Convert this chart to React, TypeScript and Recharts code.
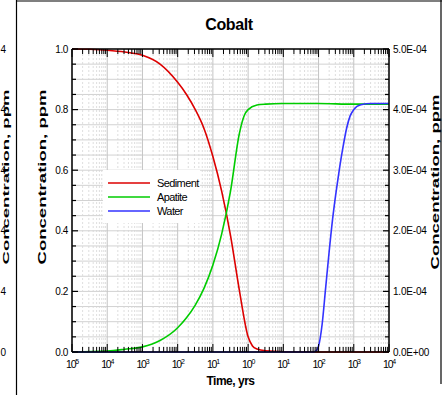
import React from 'react';
import { LineChart, Line, XAxis, YAxis, ReferenceLine, Legend } from 'recharts';

// ---------- data ----------
const sedimentTime = [1e-5, 3.16e-5, 1e-4, 3.16e-4, 1e-3, 3.16e-3, 0.01, 0.0178, 0.0316, 0.0562, 0.1, 0.178, 0.316, 0.562, 1, 1.33, 1.78, 3.16, 10, 100, 1e4];
const sedimentConc = [1.0, 0.999, 0.996, 0.99, 0.979, 0.95, 0.89, 0.85, 0.8, 0.737, 0.645, 0.53, 0.385, 0.205, 0.05, 0.02, 0.01, 0.004, 0.001, 0, 0];

const apatiteTime = [1e-5, 1e-4, 3.16e-4, 1e-3, 3.16e-3, 0.01, 0.0178, 0.0316, 0.0562, 0.1, 0.178, 0.316, 0.562, 0.794, 1, 1.78, 3.16, 10, 100, 1000, 1e4];
const apatiteConc = [0, 0.003, 0.009, 0.017, 0.038, 0.08, 0.113, 0.155, 0.211, 0.287, 0.39, 0.53, 0.72, 0.783, 0.8, 0.815, 0.818, 0.82, 0.82, 0.818, 0.818];

const waterTime = [1e-5, 1, 10, 63.1, 79.4, 100, 125.9, 158.5, 199.5, 251.2, 316.2, 398.1, 501.2, 631, 794, 1000, 1585, 3162, 1e4];
const waterConc = [0, 0, 0, 0, 0.000001, 0.00001, 0.000045, 0.000105, 0.000165, 0.00022, 0.000265, 0.000305, 0.00034, 0.00037, 0.00039, 0.0004, 0.000408, 0.00041, 0.00041];

const seriesNames = ['Sediment', 'Apatite', 'Water'];
const seriesColors = ['#dd0000', '#00cc00', '#3333ff'];

const decadeExponents = [-5, -4, -3, -2, -1, 0, 1, 2, 3, 4];
const decadeLabels = ['5', '4', '3', '2', '1', '0', '1', '2', '3', '4'];

const leftMajorTicks = [0, 0.2, 0.4, 0.6, 0.8, 1.0];
const leftTickLabels = ['0.0', '0.2', '0.4', '0.6', '0.8', '1.0'];
const rightMajorTicks = [0, 0.0001, 0.0002, 0.0003, 0.0004, 0.0005];
const rightTickLabels = ['0.0E+00', '1.0E-04', '2.0E-04', '3.0E-04', '4.0E-04', '5.0E-04'];
// visible remains of the neighbouring panel's tick labels at the left edge
const neighbourTickLabels = ['4', '4', '4', '4', '4', '0'];

const title = 'Cobalt';
const xTitle = 'Time, yrs';
const yTitle = 'Concentration, ppm';

// ---------- derived ----------
const toRows = (t: number[], v: number[]) => t.map((x, i) => ({ t: x, v: v[i] }));
const sedimentData = toRows(sedimentTime, sedimentConc);
const apatiteData = toRows(apatiteTime, apatiteConc);
const waterData = toRows(waterTime, waterConc);

const decadeValues = decadeExponents.map((e) => Math.pow(10, e));
const logTicks: number[] = [];
decadeExponents.slice(0, -1).forEach((e) => {
  for (let m = 1; m <= 9; m++) logTicks.push(Number((m * Math.pow(10, e)).toPrecision(3)));
});
logTicks.push(decadeValues[decadeValues.length - 1]);
const minorLogValues = logTicks.filter((v) => !decadeValues.some((d) => Math.abs(d - v) / d < 1e-6));

const leftTicks = Array.from({ length: 21 }, (_, i) => Number((i * 0.05).toFixed(2)));
const rightTicks = Array.from({ length: 21 }, (_, i) => Number((i * 0.000025).toPrecision(3)));

const FONT = '"Liberation Sans", Arial, sans-serif';
const AXIS_STROKE = { stroke: '#000', strokeWidth: 1.5 };

const findIdx = (arr: number[], v: number) => arr.findIndex((a) => Math.abs(a - v) <= Math.abs(a) * 1e-6 + 1e-12);

const BottomTick = (p: any) => {
  const { x, y, payload } = p;
  const idx = findIdx(decadeValues, payload.value);
  const major = idx >= 0;
  return (
    <g>
      <line x1={x} x2={x} y1={y} y2={y - (major ? 8 : 5)} stroke="#000" strokeWidth={1} />
      {major && (
        <text x={x} y={y + 16} textAnchor="middle" fontSize={10.5} letterSpacing={-1.2} fontFamily={FONT} fill="#000">
          10
          <tspan fontSize={7} dy={-4.5}>{decadeLabels[idx]}</tspan>
        </text>
      )}
    </g>
  );
};

const TopTick = (p: any) => {
  const { x, y, payload } = p;
  const major = findIdx(decadeValues, payload.value) >= 0;
  return <line x1={x} x2={x} y1={y} y2={y + (major ? 8 : 5)} stroke="#000" strokeWidth={1} />;
};

const LeftTick = (p: any) => {
  const { x, y, payload } = p;
  const idx = findIdx(leftMajorTicks, payload.value);
  const major = idx >= 0;
  return (
    <g>
      <line x1={x} x2={x + (major ? 6 : 4)} y1={y} y2={y} stroke="#000" strokeWidth={1.2} />
      {major && (
        <text x={x - 4} y={y + 3.5} textAnchor="end" fontSize={10} letterSpacing={-0.4} fontFamily={FONT} fill="#000">
          {leftTickLabels[idx]}
        </text>
      )}
    </g>
  );
};

const RightTick = (p: any) => {
  const { x, y, payload } = p;
  const idx = findIdx(rightMajorTicks, payload.value);
  const major = idx >= 0;
  return (
    <g>
      <line x1={x} x2={x - (major ? 6 : 4)} y1={y} y2={y} stroke="#000" strokeWidth={1.2} />
      {major && (
        <text x={x + 4} y={y + 3.5} textAnchor="start" fontSize={10} letterSpacing={-0.2} fontFamily={FONT} fill="#000">
          {rightTickLabels[idx]}
        </text>
      )}
    </g>
  );
};

const RotLabel = ({ cx, cy, size }: { cx: number; cy: number; size: number }) => (
  <text
    x={cx}
    y={cy}
    transform={`rotate(-90, ${cx}, ${cy})`}
    textAnchor="middle"
    dominantBaseline="central"
    fontSize={size}
    fontWeight="bold"
    fontFamily={FONT}
    textLength={175}
    lengthAdjust="spacingAndGlyphs"
    fill="#000"
  >
    {yTitle}
  </text>
);

const YTitle = (offsetX: number, offsetY: number) => (p: any) => {
  const vb = p.viewBox || {};
  return <RotLabel cx={vb.x + offsetX} cy={vb.y + offsetY} size={11} />;
};

const XTitle = (p: any) => {
  const vb = p.viewBox || {};
  return (
    <text x={vb.x + vb.width / 2} y={vb.y + 33} textAnchor="middle" fontSize={12} fontWeight="bold" letterSpacing={-0.5} fontFamily={FONT} fill="#000">
      {xTitle}
    </text>
  );
};

const LegendBox = () => (
  <div style={{ background: '#fff', width: 97, height: 53 }}>
    <svg width={97} height={53} style={{ display: 'block' }}>
      {seriesNames.map((n, i) => (
        <g key={n}>
          <line x1={5} x2={47} y1={13 + 14 * i} y2={13 + 14 * i} stroke={seriesColors[i]} strokeWidth={1.6} />
          <text x={54} y={17 + 14 * i} fontSize={11} letterSpacing={-0.6} fontFamily={FONT} fill="#000">
            {n}
          </text>
        </g>
      ))}
    </svg>
  </div>
);

export default function App() {
  return (
    <div style={{ position: 'absolute', left: 0, top: 0, width: 442, height: 395, background: '#fff' }}>
      <LineChart width={442} height={395} margin={{ top: 39, right: 8, bottom: 13, left: 42 }}>
        <XAxis
          xAxisId="x"
          dataKey="t"
          type="number"
          scale="log"
          domain={[decadeValues[0], decadeValues[decadeValues.length - 1]]}
          allowDataOverflow
          ticks={logTicks}
          interval={0}
          height={30}
          tickSize={0}
          tickMargin={0}
          tickLine={false}
          axisLine={AXIS_STROKE}
          tick={<BottomTick />}
          label={<XTitle />}
        />
        <XAxis
          xAxisId="top"
          orientation="top"
          dataKey="t"
          type="number"
          scale="log"
          domain={[decadeValues[0], decadeValues[decadeValues.length - 1]]}
          allowDataOverflow
          ticks={logTicks}
          interval={0}
          height={10}
          tickSize={0}
          tickMargin={0}
          tickLine={false}
          axisLine={AXIS_STROKE}
          tick={<TopTick />}
        />
        <YAxis
          yAxisId="left"
          type="number"
          domain={[0, 1]}
          ticks={leftTicks}
          interval={0}
          width={30}
          tickSize={0}
          tickMargin={0}
          tickLine={false}
          axisLine={AXIS_STROKE}
          tick={<LeftTick />}
          label={{ content: YTitle(-0.5, 128) }}
        />
        <YAxis
          yAxisId="right"
          orientation="right"
          type="number"
          domain={[0, 0.0005]}
          ticks={rightTicks}
          interval={0}
          width={45}
          tickSize={0}
          tickMargin={0}
          tickLine={false}
          axisLine={AXIS_STROKE}
          tick={<RightTick />}
          label={{ content: YTitle(46, 133) }}
        />

        {leftTicks.map((v) => (
          <ReferenceLine key={'h' + v} xAxisId="x" yAxisId="left" y={v} stroke="#d2d2d2" strokeWidth={1} />
        ))}
        {minorLogValues.map((v) => (
          <ReferenceLine key={'vm' + v} xAxisId="x" yAxisId="left" x={v} stroke="#d6d6d6" strokeWidth={0.8} strokeDasharray="2 2" />
        ))}
        {decadeValues.map((v) => (
          <ReferenceLine key={'vd' + v} xAxisId="x" yAxisId="left" x={v} stroke="#c4c4c4" strokeWidth={1} />
        ))}

        <Legend
          layout="vertical"
          align="center"
          verticalAlign="middle"
          wrapperStyle={{ left: 103, top: 170, width: 97, height: 53 }}
          content={<LegendBox />}
        />

        <Line name={seriesNames[0]} xAxisId="x" yAxisId="left" data={sedimentData} dataKey="v" type="monotone" stroke={seriesColors[0]} strokeWidth={1.6} dot={false} isAnimationActive={false} />
        <Line name={seriesNames[1]} xAxisId="x" yAxisId="left" data={apatiteData} dataKey="v" type="monotone" stroke={seriesColors[1]} strokeWidth={1.6} dot={false} isAnimationActive={false} />
        <Line name={seriesNames[2]} xAxisId="x" yAxisId="right" data={waterData} dataKey="v" type="monotone" stroke={seriesColors[2]} strokeWidth={1.6} dot={false} isAnimationActive={false} />
      </LineChart>

      <svg width={442} height={395} style={{ position: 'absolute', left: 0, top: 0, pointerEvents: 'none' }}>
        <line x1={16.5} x2={16.5} y1={0} y2={395} stroke="#000" strokeWidth={1.2} />
        <line x1={16} x2={442} y1={1} y2={1} stroke="#000" strokeWidth={1.2} />
        <line x1={441} x2={441} y1={0} y2={384} stroke="#000" strokeWidth={1.2} />
        <text x={229} y={30} textAnchor="middle" fontSize={16} fontWeight="bold" letterSpacing={-0.4} fontFamily={FONT} fill="#000">
          {title}
        </text>
        {neighbourTickLabels.map((s, i) => (
          <text key={i} x={0.5} y={49 + i * 60.6 + 3.5} textAnchor="start" fontSize={10} fontFamily={FONT} fill="#000">
            {s}
          </text>
        ))}
        <RotLabel cx={5} cy={177} size={9.5} />
      </svg>
    </div>
  );
}
